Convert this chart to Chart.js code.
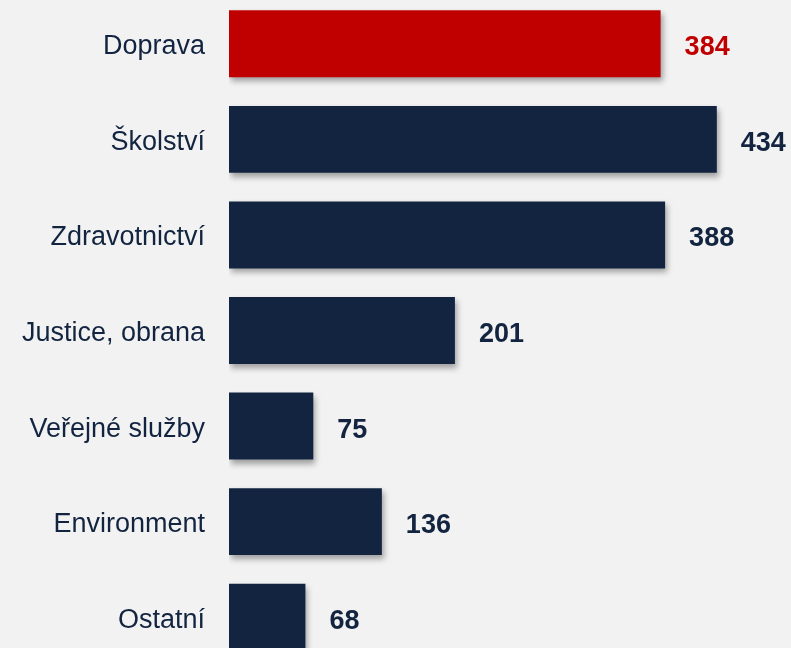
<!DOCTYPE html>
<html>
<head>
<meta charset="utf-8">
<script src="https://cdn.jsdelivr.net/npm/chart.js@4"></script>
<style>
  html, body { margin: 0; padding: 0; background: #f2f2f2; overflow: hidden; width: 791px; height: 648px; }
  #myChart { position: absolute; left: 0; top: -4px; }
</style>
</head>
<body>
<canvas id="myChart" width="791" height="669"></canvas>
<script>
const categories = ['Doprava', 'Školství', 'Zdravotnictví', 'Justice, obrana', 'Veřejné služby', 'Environment', 'Ostatní'];
const values = [384, 434, 388, 201, 75, 136, 68];
const barColors = ['#c00000', '#12243f', '#12243f', '#12243f', '#12243f', '#12243f', '#12243f'];

const FONT = '"Liberation Sans", Arial, Helvetica, sans-serif';

// drop shadow under the bars
const shadowPlugin = {
    id: 'barShadow',
    beforeDatasetsDraw(chart) {
        const ctx = chart.ctx;
        ctx.save();
        ctx.shadowColor = 'rgba(0,0,0,0.35)';
        ctx.shadowBlur = 6;
        ctx.shadowOffsetX = 2;
        ctx.shadowOffsetY = 4;
    },
    afterDatasetsDraw(chart) {
        chart.ctx.restore();
    }
};

// value labels to the right of each bar
const valueLabels = {
    id: 'valueLabels',
    afterDraw(chart) {
        const ctx = chart.ctx;
        const meta = chart.getDatasetMeta(0);
        ctx.save();
        ctx.font = 'bold 27px ' + FONT;
        ctx.textBaseline = 'middle';
        ctx.textAlign = 'left';
        meta.data.forEach((bar, i) => {
            ctx.fillStyle = i === 0 ? '#c00000' : '#12243f';
            ctx.fillText(values[i], bar.x + 24, bar.y + 4);
        });
        ctx.restore();
    }
};

const ctx = document.getElementById('myChart');
new Chart(ctx, {
    type: 'bar',
    data: {
        labels: categories,
        datasets: [{
            data: values,
            backgroundColor: barColors,
            borderWidth: 0,
            barPercentage: 0.7,
            categoryPercentage: 1
        }]
    },
    options: {
        indexAxis: 'y',
        responsive: false,
        animation: false,
        devicePixelRatio: 1,
        layout: { padding: 0 },
        plugins: {
            legend: { display: false },
            tooltip: { enabled: false }
        },
        scales: {
            x: {
                display: false,
                min: 0,
                max: 500
            },
            y: {
                afterFit(scale) {
                    scale.width = 229;
                    scale.paddingTop = 0;
                    scale.paddingBottom = 0;
                },
                grid: { display: false, drawTicks: false },
                border: { display: false },
                ticks: {
                    padding: 24,
                    labelOffset: 3,
                    color: '#12243f',
                    font: { family: FONT, size: 27 }
                }
            }
        }
    },
    plugins: [shadowPlugin, valueLabels]
});
</script>
</body>
</html>
